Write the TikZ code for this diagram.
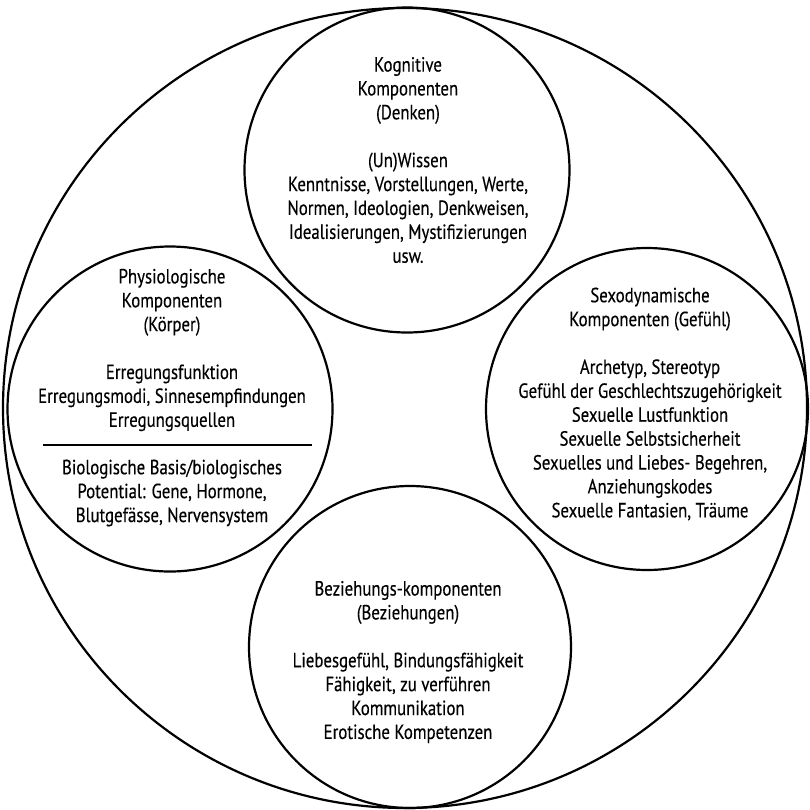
\documentclass[tikz,border=0pt]{standalone}
\usepackage{fontspec}
\setmainfont{PT Sans}[FakeStretch=0.82,FakeBold=0.3]
\usetikzlibrary{shapes.geometric}
\tikzset{
  ring/.style={circle, draw, line width=2.2pt, inner sep=0pt},
  txt/.style={align=center, inner sep=0pt, font=\fontsize{20.5}{23.9}\selectfont, text=black},
  rulestyle/.style={line width=1.5pt}
}
\begin{document}
\begin{tikzpicture}[x=1pt,y=-1pt]
\useasboundingbox (0,0) rectangle (810,809);
\node[ellipse, draw, line width=2.2pt, inner sep=0pt, minimum width=804pt, minimum height=800pt] (outer) at (405,408) {};
\node[ring, minimum size=325pt] (top) at (407,170) {};
\node[ring, minimum size=325pt] (left) at (170,409) {};
\node[ring, minimum size=322pt] (right) at (647,409) {};
\node[ring, minimum size=322pt] (bottom) at (410,647) {};
\node[txt] (toptxt) at (408,160) {Kognitive\\Komponenten\\(Denken)\\[23.9pt](Un)Wissen\\Kenntnisse, Vorstellungen, Werte,\\Normen, Ideologien, Denkweisen,\\Idealisierungen, Mystifizierungen\\usw.};
\node[txt] (lefttxt) at (172,350) {Physiologische\\Komponenten\\(Körper)\\[23.9pt]Erregungsfunktion\\Erregungsmodi, Sinnesempfindungen\\Erregungsquellen};
\coordinate (rl) at (43,445);
\coordinate (rr) at (312,445);
\draw[rulestyle] (rl) -- (rr);
\node[txt] (leftlow) at (172,493) {Biologische Basis/biologisches\\Potential: Gene, Hormone,\\Blutgefässe, Nervensystem};
\node[txt] (righttxt) at (650,404) {Sexodynamische\\Komponenten (Gefühl)\\[23.9pt]Archetyp, Stereotyp\\Gefühl der Geschlechtszugehörigkeit\\Sexuelle Lustfunktion\\Sexuelle Selbstsicherheit\\Sexuelles und Liebes- Begehren,\\Anziehungskodes\\Sexuelle Fantasien, Träume};
\node[txt] (bottomtxt) at (408,662) {Beziehungs-komponenten\\(Beziehungen)\\[23.9pt]Liebesgefühl, Bindungsfähigkeit\\Fähigkeit, zu verführen\\Kommunikation\\Erotische Kompetenzen};
\end{tikzpicture}
\end{document}
